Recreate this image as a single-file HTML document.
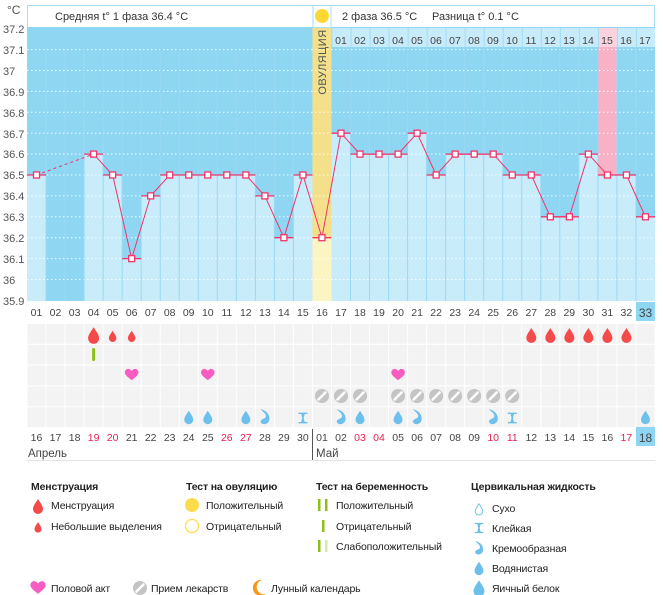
<!DOCTYPE html>
<html><head><meta charset="utf-8">
<style>
html,body{margin:0;padding:0;background:#fff;}
svg{display:block;font-family:"Liberation Sans","DejaVu Sans",sans-serif;}
</style></head>
<body>
<svg id="s" width="663" height="595" viewBox="0 0 663 595" xmlns="http://www.w3.org/2000/svg">
<defs>
<path id="drop" d="M0,-7 C2.5,-3 5,0 5,3 A5,5 0 0 1 -5,3 C-5,0 -2.5,-3 0,-7Z"/>
<path id="heart" d="M0,6 C-4,3 -8,0 -8,-3 C-8,-6 -5,-8 -3,-7 C-1.5,-6.5 -0.5,-5.5 0,-4.5 C0.5,-5.5 1.5,-6.5 3,-7 C5,-8 8,-6 8,-3 C8,0 4,3 0,6Z"/>
<g id="pill"><circle r="7" fill="#c4c4c4"/><line x1="-3.5" y1="3.5" x2="3.5" y2="-3.5" stroke="#fff" stroke-width="2.5" stroke-linecap="round"/></g>
<path id="cream" d="M-4,-7 C2,-6 5,-1 4,3 C3,7 -3,8 -4,4 C-3,1 1,2 1,-1 C1,-3 -2,-5 -4,-7Z"/>
<path id="sticky" d="M-5,-6 H5 V-4.5 H2 L0.8,0 L2,4.5 H5 V6 H-5 V4.5 H-2 L-0.8,0 L-2,-4.5 H-5Z"/>
</defs>
<g id="g"></g>
<g font-size="11" fill="#555">
<text x="7" y="14" font-size="12">°C</text>
<text x="3" y="33">37.2</text><text x="3" y="54">37.1</text><text x="3" y="75">37</text>
<text x="3" y="96">36.9</text><text x="3" y="117">36.8</text><text x="3" y="138">36.7</text>
<text x="3" y="158">36.6</text><text x="3" y="179">36.5</text><text x="3" y="200">36.4</text>
<text x="3" y="221">36.3</text><text x="3" y="242">36.2</text><text x="3" y="263">36.1</text>
<text x="3" y="284">36</text><text x="3" y="305">35.9</text>
</g>
<g font-size="11" fill="#333">
<text x="55" y="20">Средняя t° 1 фаза 36.4 °C</text>
<text x="342" y="20">2 фаза 36.5 °C</text>
<text x="432" y="20">Разница t° 0.1 °C</text>
</g>
<text transform="translate(326,62) rotate(-90)" font-size="11" fill="#555" text-anchor="middle" letter-spacing="0.5">ОВУЛЯЦИЯ</text>
<g font-size="10.5" fill="#444" text-anchor="middle">
<text x="341" y="44">01</text><text x="360" y="44">02</text><text x="379" y="44">03</text><text x="398" y="44">04</text><text x="417" y="44">05</text><text x="436" y="44">06</text><text x="455" y="44">07</text><text x="474" y="44">08</text><text x="493" y="44">09</text><text x="512" y="44">10</text><text x="531" y="44">11</text><text x="550" y="44">12</text><text x="569" y="44">13</text><text x="588" y="44">14</text><text x="607" y="44">15</text><text x="626" y="44">16</text><text x="645" y="44">17</text>
</g>
<g font-size="10.5" fill="#444" text-anchor="middle">
<text x="36.5" y="316">01</text><text x="55.5" y="316">02</text><text x="74.6" y="316">03</text><text x="93.6" y="316">04</text><text x="112.6" y="316">05</text><text x="131.7" y="316">06</text><text x="150.7" y="316">07</text><text x="169.7" y="316">08</text><text x="188.7" y="316">09</text><text x="207.8" y="316">10</text><text x="226.8" y="316">11</text><text x="245.8" y="316">12</text><text x="264.9" y="316">13</text><text x="283.9" y="316">14</text><text x="302.9" y="316">15</text><text x="322" y="316">16</text><text x="341" y="316">17</text><text x="360" y="316">18</text><text x="379" y="316">19</text><text x="398.1" y="316">20</text><text x="417.1" y="316">21</text><text x="436.1" y="316">22</text><text x="455.2" y="316">23</text><text x="474.2" y="316">24</text><text x="493.2" y="316">25</text><text x="512.3" y="316">26</text><text x="531.3" y="316">27</text><text x="550.3" y="316">28</text><text x="569.3" y="316">29</text><text x="588.4" y="316">30</text><text x="607.4" y="316">31</text><text x="626.4" y="316">32</text><text x="645.5" y="317" font-size="12">33</text>
</g>
<g font-size="10.5" fill="#444" text-anchor="middle">
<text x="36.5" y="441">16</text><text x="55.5" y="441">17</text><text x="74.6" y="441">18</text><text x="93.6" y="441" fill="#e8204f">19</text><text x="112.6" y="441" fill="#e8204f">20</text><text x="131.7" y="441">21</text><text x="150.7" y="441">22</text><text x="169.7" y="441">23</text><text x="188.7" y="441">24</text><text x="207.8" y="441">25</text><text x="226.8" y="441" fill="#e8204f">26</text><text x="245.8" y="441" fill="#e8204f">27</text><text x="264.9" y="441">28</text><text x="283.9" y="441">29</text><text x="302.9" y="441">30</text><text x="322" y="441">01</text><text x="341" y="441">02</text><text x="360" y="441" fill="#e8204f">03</text><text x="379" y="441" fill="#e8204f">04</text><text x="398.1" y="441">05</text><text x="417.1" y="441">06</text><text x="436.1" y="441">07</text><text x="455.2" y="441">08</text><text x="474.2" y="441">09</text><text x="493.2" y="441" fill="#e8204f">10</text><text x="512.3" y="441" fill="#e8204f">11</text><text x="531.3" y="441">12</text><text x="550.3" y="441">13</text><text x="569.3" y="441">14</text><text x="588.4" y="441">15</text><text x="607.4" y="441">16</text><text x="626.4" y="441" fill="#e8204f">17</text><text x="645.5" y="442" font-size="12">18</text>
</g>
<g font-size="11.5" fill="#444">
<text x="28" y="457">Апрель</text><text x="316" y="457">Май</text>
</g>
<g font-size="10.5" fill="#222" letter-spacing="-0.15">
<g font-weight="bold">
<text x="31" y="490">Менструация</text><text x="186" y="490">Тест на овуляцию</text>
<text x="316" y="490">Тест на беременность</text><text x="471" y="490">Цервикальная жидкость</text>
</g>
<text x="51" y="509">Менструация</text><text x="51" y="530">Небольшие выделения</text>
<text x="206" y="509">Положительный</text><text x="206" y="530">Отрицательный</text>
<text x="336" y="509">Положительный</text><text x="336" y="530">Отрицательный</text><text x="336" y="550">Слабоположительный</text>
<text x="492" y="512">Сухо</text><text x="492" y="532">Клейкая</text><text x="492" y="552">Кремообразная</text><text x="492" y="572">Водянистая</text><text x="492" y="592">Яичный белок</text>
<text x="51" y="592">Половой акт</text><text x="151" y="592">Прием лекарств</text><text x="271" y="592">Лунный календарь</text>
</g>
<g>
<use href="#drop" transform="translate(38,506) scale(1,1)" fill="#f44a4a"/>
<use href="#drop" transform="translate(38,527) scale(0.7)" fill="#f44a4a"/>
<circle cx="192" cy="505" r="7" fill="#fddc4c"/>
<circle cx="192" cy="526" r="6.5" fill="#fff" stroke="#fddc4c" stroke-width="1.3"/>
<rect x="318" y="499" width="2.5" height="12" fill="#8cbf1a"/><rect x="325" y="499" width="2.5" height="12" fill="#8cbf1a"/>
<rect x="322" y="520" width="2.5" height="12" fill="#8cbf1a"/>
<rect x="318" y="540" width="2.5" height="12" fill="#8cbf1a"/><rect x="325" y="540" width="2.5" height="12" fill="#d6e8b0"/>
<use href="#drop" transform="translate(479,509) scale(0.75)" fill="#fff" stroke="#6ec0ec" stroke-width="1.3"/>
<use href="#sticky" transform="translate(479,528) scale(0.85)" fill="#6ec0ec"/>
<use href="#cream" transform="translate(479,548) scale(1.0)" fill="#6ec0ec"/>
<use href="#drop" transform="translate(479,568) scale(0.9)" fill="#6ec0ec"/>
<use href="#drop" transform="translate(479,588) scale(1.1)" fill="#6ec0ec"/>
<use href="#heart" transform="translate(38,588) scale(0.95)" fill="#f95cc0"/>
<use href="#pill" transform="translate(140,588)"/>
<path d="M262,580 A8,8 0 1 0 266,594 A6,6 0 0 1 262,580Z" fill="#f39a1e"/>
</g>
</svg>
<script>
(function(){
var NS="http://www.w3.org/2000/svg",g=document.getElementById('g');
function el(t,a){var e=document.createElementNS(NS,t);for(var k in a)e.setAttribute(k,a[k]);g.appendChild(e);return e;}
var W=19.03,X0=27;
function L(k){return X0+(k-1)*W;}function C(k){return L(k)+W/2;}
function Y(v){return 175+(36.5-v)*209;}
var T=[36.5,null,null,36.6,36.5,36.1,36.4,36.5,36.5,36.5,36.5,36.5,36.4,36.2,36.5,36.2,36.7,36.6,36.6,36.6,36.7,36.5,36.6,36.6,36.6,36.5,36.5,36.3,36.3,36.6,36.5,36.5,36.3];
el('rect',{x:27.5,y:5.5,width:627,height:22,fill:'#fff',stroke:'#a8def4'});
el('rect',{x:27,y:27,width:628,height:274,fill:'#8fd6f2'});
el('rect',{x:L(17),y:28,width:L(34)-L(17),height:19,fill:'#c8ebfa'});
el('rect',{x:L(31),y:28,width:W,height:19,fill:'#fbd3de'});
el('rect',{x:L(31),y:47,width:W,height:Y(36.5)-47,fill:'#f9b1c5'});
for(var k=1;k<=33;k++){var v=T[k-1];if(v==null||k==16)continue;
el('rect',{x:L(k),y:Y(v),width:W,height:301-Y(v),fill:'#c9ecfb'});}
el('rect',{x:L(16),y:5,width:W,height:296,fill:'#f4e08a'});
el('rect',{x:L(16),y:Y(36.2),width:W,height:301-Y(36.2),fill:'#fdf4c4'});
el('rect',{x:L(16)+0.5,y:5.5,width:W-1,height:22,fill:'#fff',stroke:'#a8def4'});
el('circle',{cx:C(16),cy:16,r:7,fill:'#fdd835'});
for(var i=1;i<=12;i++){var y=Y(37.2-i*0.1+1e-9);el('line',{x1:27,x2:655,y1:y,y2:y,stroke:'#fff','stroke-dasharray':'1.5 2.5','stroke-width':1,opacity:0.9});}
for(var k=2;k<=33;k++){if(k==16||k==17)continue;el('line',{x1:L(k),x2:L(k),y1:47,y2:301,stroke:'#9ad9f3'});}
for(var k=17;k<=33;k++){el('line',{x1:L(k)+0.5,x2:L(k)+0.5,y1:28,y2:47,stroke:'#a3dcf4'});}
el('rect',{x:L(33),y:302,width:W,height:19,fill:'#8fd6f2'});
el('rect',{x:L(33),y:427,width:W,height:19,fill:'#8fd6f2'});
for(var r=0;r<5;r++)for(var k=1;k<=33;k++){el('rect',{x:L(k)+0.5,y:324+r*20.8,width:W-1,height:19.8,fill:'#f3f3f3'});}
el('line',{x1:312.5,x2:312.5,y1:429,y2:460,stroke:'#555'});
el('line',{x1:27,x2:655,y1:460.5,y2:460.5,stroke:'#e4e4e4'});
var red='#f2346a';
for(var k=1;k<=33;k++){var v=T[k-1];if(v==null)continue;el('line',{x1:L(k),x2:L(k)+W,y1:Y(v),y2:Y(v),stroke:red,'stroke-width':1.3});}
el('line',{x1:C(1),y1:Y(36.5),x2:C(4),y2:Y(36.6),stroke:red,'stroke-dasharray':'3 3'});
var pts=[];for(var k=4;k<=33;k++)pts.push(C(k)+','+Y(T[k-1]));
el('polyline',{points:pts.join(' '),fill:'none',stroke:red,'stroke-width':1});
for(var k=1;k<=33;k++){var v=T[k-1];if(v==null)continue;el('rect',{x:C(k)-3,y:Y(v)-3,width:6,height:6,fill:'#fff',stroke:red,'stroke-width':1.3});}
function use(id,k,y,s,f){el('use',{href:'#'+id,transform:'translate('+C(k)+','+y+') scale('+s+')',fill:f||''});}
use('drop',4,335,1.1,'#f44a4a');use('drop',5,336,0.75,'#f44a4a');use('drop',6,336,0.75,'#f44a4a');
[27,28,29,30,31,32].forEach(function(k){use('drop',k,335,1.0,'#f44a4a');});
el('rect',{x:C(4)-1.5,y:348,width:3,height:13,rx:1.5,fill:'#8cbf1a'});
use('heart',6,375,0.85,'#f95cc0');use('heart',10,375,0.85,'#f95cc0');use('heart',20,375,0.85,'#f95cc0');
[16,17,18,20,21,22,23,24,25,26].forEach(function(k){use('pill',k,396,1);});
var cb='#6ec0ec';
use('drop',9,417,0.9,cb);use('drop',10,417,0.9,cb);use('drop',12,417,0.9,cb);use('cream',13,417,1.1,cb);
use('sticky',15,418,0.9,cb);use('cream',17,417,1.1,cb);use('drop',18,417,0.9,cb);use('drop',20,417,0.9,cb);
use('cream',21,417,1.1,cb);use('cream',25,417,1.1,cb);use('sticky',26,418,0.9,cb);use('drop',33,417,0.9,cb);
})();
</script>
</body></html>
